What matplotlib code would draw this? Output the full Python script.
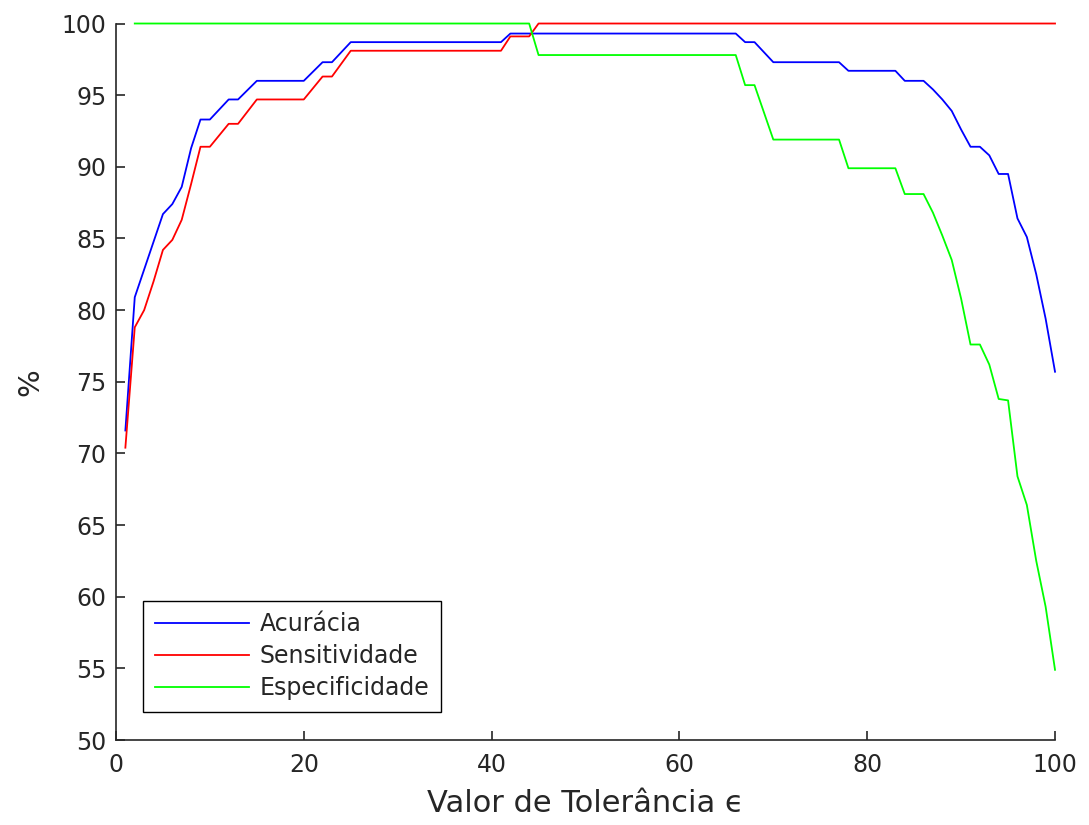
import matplotlib.pyplot as plt

# Acuracia breakpoints (epsilon, %)
acc_x = [1, 2, 5, 6, 7, 8, 9, 10, 12, 13, 15, 20, 22, 23, 25, 41, 42, 66, 67, 68, 70, 77, 78,
         83, 84, 86, 87, 88, 89, 90, 91, 92, 93, 94, 95, 96, 97, 98, 99, 100]
acc_y = [71.6, 80.9, 86.7, 87.4, 88.6, 91.3, 93.3, 93.3, 94.7, 94.7, 96.0, 96.0, 97.3, 97.3, 98.7,
         98.7, 99.3, 99.3, 98.7, 98.7, 97.3, 97.3, 96.7, 96.7, 96.0, 96.0, 95.4, 94.7, 93.9, 92.6,
         91.4, 91.4, 90.8, 89.5, 89.5, 86.4, 85.1, 82.5, 79.4, 75.7]

# Sensitividade
sen_x = [1, 2, 3, 4, 5, 6, 7, 8, 9, 10, 12, 13, 15, 20, 22, 23, 25, 41, 42, 44, 45, 100]
sen_y = [70.4, 78.8, 80.0, 82.0, 84.2, 84.9, 86.3, 88.8, 91.4, 91.4, 93.0, 93.0, 94.7, 94.7,
         96.3, 96.3, 98.1, 98.1, 99.1, 99.1, 100.0, 100.0]

# Especificidade
esp_x = [2, 44, 45, 66, 67, 68, 70, 77, 78, 83, 84, 86, 87, 88, 89, 90, 91, 92, 93, 94, 95,
         96, 97, 98, 99, 100]
esp_y = [100.0, 100.0, 97.8, 97.8, 95.7, 95.7, 91.9, 91.9, 89.9, 89.9, 88.1, 88.1, 86.8, 85.2,
         83.5, 80.8, 77.6, 77.6, 76.2, 73.8, 73.7, 68.4, 66.4, 62.5, 59.3, 54.9]

labels = ['Acurácia', 'Sensitividade', 'Especificidade']
dark = '#262626'

fig = plt.figure(figsize=(10.89, 8.25), dpi=100)
ax = fig.add_axes([0.1065, 0.103, 0.8623, 0.8685])

ax.plot(acc_x, acc_y, color=(0, 0, 1), lw=1.3, label=labels[0], clip_on=False)
ax.plot(sen_x, sen_y, color=(1, 0, 0), lw=1.3, label=labels[1], clip_on=False)
ax.plot(esp_x, esp_y, color=(0, 1, 0), lw=1.3, label=labels[2], clip_on=False)

ax.set_xlim(0, 100)
ax.set_ylim(50, 100)
ax.set_xticks(range(0, 101, 20))
ax.set_yticks(range(50, 101, 5))

for s in ['top', 'right']:
    ax.spines[s].set_visible(False)
for s in ['left', 'bottom']:
    ax.spines[s].set_color(dark)
    ax.spines[s].set_linewidth(1.2)

ax.tick_params(direction='in', length=6.5, width=1.2, colors=dark, labelsize=17)
ax.tick_params(axis='x', pad=9)
ax.tick_params(axis='y', pad=7)

ax.set_xlabel('Valor de Tolerância \u03f5', fontsize=22, color=dark, labelpad=9)
ax.set_ylabel('%', fontsize=21, color=dark, labelpad=12)

leg = ax.legend(loc='lower left', bbox_to_anchor=(0.0288, 0.0395), fontsize=17,
                fancybox=False, framealpha=1, edgecolor='black', handlelength=4.0,
                handletextpad=0.45, labelspacing=0.33, borderpad=0.5, borderaxespad=0)
leg.get_frame().set_linewidth(1.0)
for t in leg.get_texts():
    t.set_color(dark)

fig.savefig('out.png', dpi=100)
